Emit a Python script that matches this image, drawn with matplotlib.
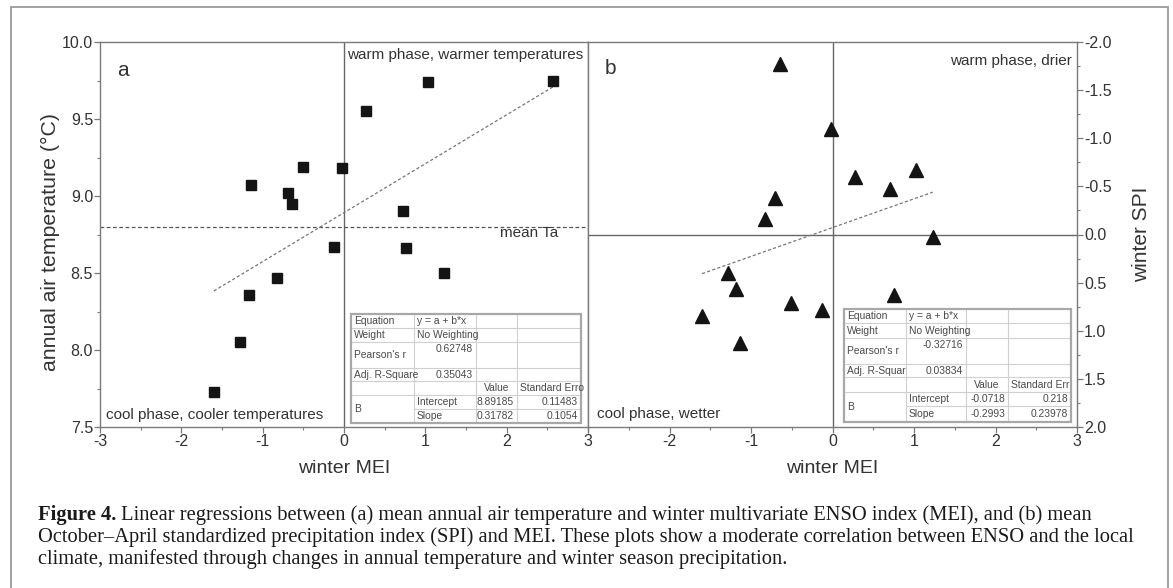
import matplotlib
matplotlib.use("Agg")
import matplotlib.pyplot as plt
from matplotlib.patches import Rectangle
from matplotlib.lines import Line2D
from matplotlib.ticker import MultipleLocator, FormatStrFormatter

plt.rcParams['font.family'] = ['Liberation Sans', 'DejaVu Sans']
plt.rcParams['axes.unicode_minus'] = False

# ---------------- data ----------------
mei_a = [-1.60, -1.28, -1.17, -1.14, -0.82, -0.69, -0.64, -0.50, -0.12, -0.02, 0.27, 0.72, 0.76, 1.03, 1.23, 2.57]
ta = [7.73, 8.05, 8.36, 9.07, 8.47, 9.02, 8.95, 9.19, 8.67, 9.18, 9.55, 8.90, 8.66, 9.74, 8.50, 9.75]
mean_ta = 8.80
fit_a = (8.89185, 0.31782)

mei_b = [-1.60, -1.28, -1.18, -1.14, -0.83, -0.70, -0.65, -0.51, -0.13, -0.02, 0.27, 0.71, 0.75, 1.02, 1.23]
spi = [0.85, 0.40, 0.57, 1.13, -0.16, -0.38, -1.77, 0.71, 0.78, -1.10, -0.60, -0.47, 0.63, -0.67, 0.03]
fit_b = (-0.0718, -0.2993)

x_ticks = [-3, -2, -1, 0, 1, 2, 3]
x_labels_a = ['-3', '-2', '-1', '0', '1', '2', '3']
x_labels_b = ['', '-2', '-1', '0', '1', '2', '3']

table_a = [
    ["Equation", "y = a + b*x", "", ""],
    ["Weight", "No Weighting", "", ""],
    ["Pearson's r", "0.62748", "", ""],
    ["Adj. R-Square", "0.35043", "", ""],
    ["", "", "Value", "Standard Erro"],
    ["B", "Intercept", "8.89185", "0.11483"],
    ["", "Slope", "0.31782", "0.1054"],
]
table_b = [
    ["Equation", "y = a + b*x", "", ""],
    ["Weight", "No Weighting", "", ""],
    ["Pearson's r", "-0.32716", "", ""],
    ["Adj. R-Squar", "0.03834", "", ""],
    ["", "", "Value", "Standard Err"],
    ["B", "Intercept", "-0.0718", "0.218"],
    ["", "Slope", "-0.2993", "0.23978"],
]

caption_bold = "Figure 4."
caption_lines = [
    " Linear regressions between (a) mean annual air temperature and winter multivariate ENSO index (MEI), and (b) mean",
    "October\u2013April standardized precipitation index (SPI) and MEI. These plots show a moderate correlation between ENSO and the local",
    "climate, manifested through changes in annual temperature and winter season precipitation.",
]

# ---------------- layout ----------------
W, H = 1173, 588
fig = plt.figure(figsize=(W / 100, H / 100), dpi=100)

def fx(px):
    return px / W

def fy(py):
    return 1 - py / H

SP = '#7a7a7a'
TXT = '#333333'

def box(l, r, t, b):
    return [fx(l), fy(b), fx(r) - fx(l), fy(t) - fy(b)]

ax_a = fig.add_axes(box(100, 588, 42, 427))
ax_b = fig.add_axes(box(588, 1077, 42, 427))

for ax in (ax_a, ax_b):
    for s in ax.spines.values():
        s.set_color(SP)
        s.set_linewidth(1.0)
    ax.set_xlim(-3, 3)
    ax.set_xticks(x_ticks)
    ax.xaxis.set_minor_locator(MultipleLocator(0.5))
    ax.tick_params(axis='both', which='both', direction='out', color=SP, labelcolor=TXT,
                   labelsize=11.5)
    ax.tick_params(which='major', length=4, width=0.9, pad=1)
    ax.tick_params(which='minor', length=2.5, width=0.8)
    ax.axvline(0, color='#666666', lw=1.0, zorder=1)

ax_a.set_xticklabels(x_labels_a)
ax_b.set_xticklabels(x_labels_b)

# panel a
ax_a.set_ylim(7.5, 10.0)
ax_a.yaxis.set_major_locator(MultipleLocator(0.5))
ax_a.yaxis.set_minor_locator(MultipleLocator(0.25))
ax_a.yaxis.set_major_formatter(FormatStrFormatter('%.1f'))
ax_a.axhline(mean_ta, color='#555555', lw=0.9, ls=(0, (3, 2)), zorder=1)
xa0, xa1 = min(mei_a), max(mei_a)
ax_a.plot([xa0, xa1], [fit_a[0] + fit_a[1] * xa0, fit_a[0] + fit_a[1] * xa1],
          color='#777777', lw=0.9, ls=(0, (2.5, 1.8)), zorder=2)
ax_a.plot(mei_a, ta, ls='none', marker='s', ms=7.5, color='#141414', zorder=3)
ax_a.set_ylabel("annual air temperature (\u00b0C)", fontsize=15.3, color=TXT)
ax_a.yaxis.set_label_coords(-0.081, 0.48)
ax_a.set_xlabel("winter MEI", fontsize=14, color=TXT, labelpad=8)
ax_a.text(0.035, 0.925, "a", transform=ax_a.transAxes, fontsize=15, color=TXT, va='center', ha='left')
ax_a.text(0.99, 0.965, "warm phase, warmer temperatures", transform=ax_a.transAxes, fontsize=11,
          color=TXT, va='center', ha='right')
ax_a.text(0.012, 0.03, "cool phase, cooler temperatures", transform=ax_a.transAxes, fontsize=11,
          color=TXT, va='center', ha='left')
ax_a.text(0.88, mean_ta - 0.04, "mean Ta", transform=ax_a.get_yaxis_transform(), fontsize=11,
          color=TXT, va='center', ha='center')

# panel b
ax_b.set_ylim(2.0, -2.0)
ax_b.yaxis.tick_right()
ax_b.yaxis.set_label_position('right')
ax_b.yaxis.set_major_locator(MultipleLocator(0.5))
ax_b.yaxis.set_minor_locator(MultipleLocator(0.25))
ax_b.yaxis.set_major_formatter(FormatStrFormatter('%.1f'))
ax_b.axhline(0, color='#666666', lw=1.0, zorder=1)
xb0, xb1 = min(mei_b), max(mei_b)
ax_b.plot([xb0, xb1], [fit_b[0] + fit_b[1] * xb0, fit_b[0] + fit_b[1] * xb1],
          color='#777777', lw=0.9, ls=(0, (2.5, 1.8)), zorder=2)
ax_b.plot(mei_b, spi, ls='none', marker='^', ms=9.5, color='#141414', zorder=3)
ax_b.set_ylabel("winter SPI", fontsize=15, color=TXT)
ax_b.yaxis.set_label_coords(1.112, 0.5)
ax_b.set_xlabel("winter MEI", fontsize=14, color=TXT, labelpad=8)
ax_b.text(0.035, 0.93, "b", transform=ax_b.transAxes, fontsize=15, color=TXT, va='center', ha='left')
ax_b.text(0.99, 0.95, "warm phase, drier", transform=ax_b.transAxes, fontsize=11,
          color=TXT, va='center', ha='right')
ax_b.text(0.018, 0.035, "cool phase, wetter", transform=ax_b.transAxes, fontsize=11,
          color=TXT, va='center', ha='left')

# ---------------- tables ----------------
def draw_table(cols, rows, cells):
    fs = 7.4
    tc = '#4a4a4a'
    lc = '#d0d0d0'
    l, r, t, b = cols[0], cols[-1], rows[0], rows[-1]
    fig.patches.append(Rectangle((fx(l), fy(b)), fx(r) - fx(l), fy(t) - fy(b), transform=fig.transFigure,
                                 facecolor='white', edgecolor='none', zorder=5))
    for c in cols[1:-1]:
        fig.add_artist(Line2D([fx(c), fx(c)], [fy(t), fy(b)], color=lc, lw=0.8, zorder=6))
    for i, rr in enumerate(rows[1:-1], start=1):
        x0 = cols[1] if i == 6 else l
        fig.add_artist(Line2D([fx(x0), fx(r)], [fy(rr), fy(rr)], color=lc, lw=0.8, zorder=6))
    fig.patches.append(Rectangle((fx(l), fy(b)), fx(r) - fx(l), fy(t) - fy(b), transform=fig.transFigure,
                                 facecolor='none', edgecolor='#a8a8a8', lw=1.6, zorder=7))
    for i, row in enumerate(cells):
        for j, val in enumerate(row):
            if not val:
                continue
            top, bot = rows[i], rows[i + 1]
            ymid = (top + bot) / 2
            if i == 5 and j == 0:
                ymid = (rows[5] + rows[7]) / 2
            if i == 2 and j == 1:
                ymid = top + 7
            if j == 0 or (j == 1 and i in (0, 1, 5, 6)) or (i == 4 and j == 3):
                x, ha = cols[j] + 3, 'left'
            elif i == 4 and j == 2:
                x, ha = (cols[j] + cols[j + 1]) / 2, 'center'
            else:
                x, ha = cols[j + 1] - 3, 'right'
            fig.text(fx(x), fy(ymid), val, fontsize=fs, color=tc, ha=ha, va='center', zorder=8)

draw_table([351, 414, 476, 517, 581], [314, 328, 342, 368, 381, 395, 409, 423], table_a)
draw_table([844, 906, 966, 1008, 1071], [309, 323, 338, 364, 377, 392, 406, 422], table_b)

# ---------------- frame and caption ----------------
fig.patches.append(Rectangle((fx(11), fy(600)), fx(1168) - fx(11), fy(7) - fy(600),
                             transform=fig.transFigure, facecolor='none', edgecolor='#9a9a9a', lw=1.3))

cap_fs = 14.8
serif = ['Liberation Serif', 'DejaVu Serif']
t0 = fig.text(fx(38), fy(515), caption_bold, fontsize=cap_fs, family=serif, weight='bold',
              color='#1a1a1a', va='center', ha='left')
fig.canvas.draw()
bb = t0.get_window_extent()
fig.text(bb.x1 / W, fy(515), caption_lines[0], fontsize=cap_fs, family=serif, color='#1a1a1a',
         va='center', ha='left')
fig.text(fx(38), fy(537), caption_lines[1], fontsize=cap_fs, family=serif, color='#1a1a1a',
         va='center', ha='left')
fig.text(fx(38), fy(559), caption_lines[2], fontsize=cap_fs, family=serif, color='#1a1a1a',
         va='center', ha='left')

fig.savefig("out.png", dpi=100)
